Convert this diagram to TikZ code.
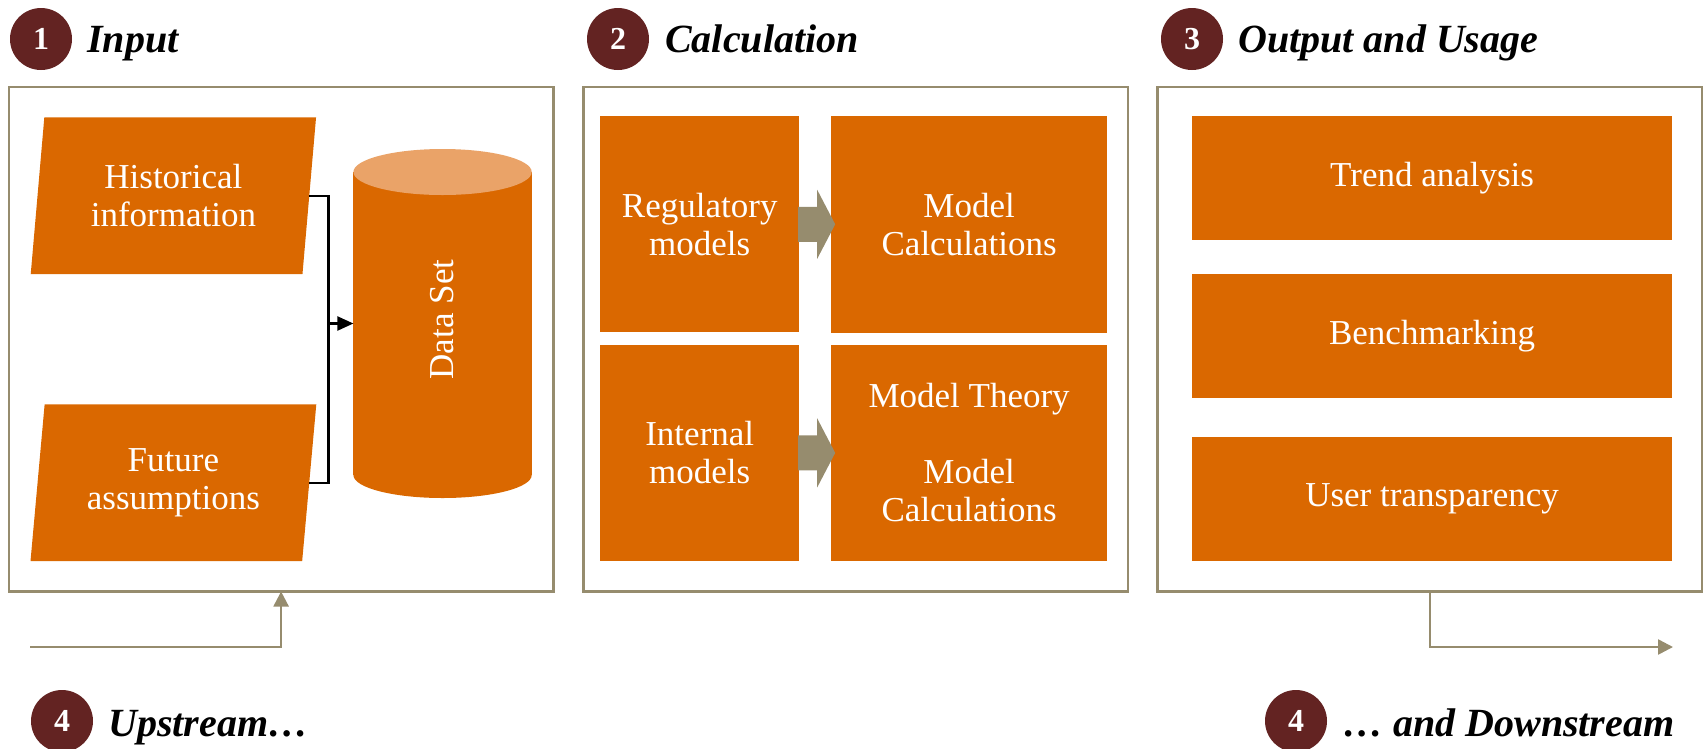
\documentclass[tikz,border=0pt]{standalone}
\usepackage{fontspec}
\setmainfont{Liberation Serif}
\usetikzlibrary{arrows.meta,shapes.geometric,calc}
\definecolor{orng}{RGB}{218,104,0}
\definecolor{lorng}{RGB}{234,163,104}
\definecolor{khaki}{RGB}{150,140,110}
\definecolor{maroon}{RGB}{99,35,34}
\newcommand{\bodyf}{\fontsize{35}{38}\selectfont}
\newcommand{\headf}{\fontsize{40}{44}\selectfont\bfseries\itshape}
\newcommand{\numf}{\fontsize{32}{34}\selectfont\bfseries}
\begin{document}
\begin{tikzpicture}[x=1pt,y=-1pt,
  frame/.style={draw=khaki, line width=2.2pt, minimum width=544.8pt, minimum height=504.5pt, inner sep=0pt, outer sep=0pt},
  obox/.style={fill=orng, text=white, font=\bodyf, align=center, inner sep=0pt, outer sep=0pt},
  para/.style={trapezium, trapezium left angle=82.1, trapezium right angle=97.9, trapezium stretches=true, fill=orng, text=white, font=\bodyf, align=center, inner sep=0pt, outer sep=0pt, minimum width=286pt, minimum height=156.6pt},
  num/.style={circle, fill=maroon, text=white, minimum size=62pt, inner sep=0pt, font=\numf},
  head/.style={anchor=base west, font=\headf, inner sep=0pt},
  conn/.style={draw=black, line width=2.2pt},
  karrow/.style={draw=khaki, line width=2.5pt, -{Triangle[length=15pt,width=15pt]}},
  blockarrow/.style={fill=khaki}
]
\useasboundingbox (0,0) rectangle (1705,748);

% headers
\node[num] (n1) at (41,39) {1};
\node[head] (h1) at (87,52) {Input};
\node[num] (n2) at (618,39) {2};
\node[head] (h2) at (665,52) {Calculation};
\node[num] (n3) at (1192,39) {3};
\node[head] (h3) at (1238,52) {Output and Usage};

% frames
\node[frame] (fin) at (281.1,339.25) {};
\node[frame] (fcalc) at (855.8,339.25) {};
\node[frame] (fout) at (1429.9,339.25) {};

% input
\node[para] (hist) at (173.4,195.7) {Historical\\information};
\node[para] (fut) at (173.4,482.75) {Future\\assumptions};

% cylinder
\node[minimum width=178.3pt, minimum height=349pt, inner sep=0pt, outer sep=0pt] (cyl) at (442.55,323.5) {};
\fill[orng] (353.4,172) rectangle (531.7,475);
\fill[orng] (442.55,475) ellipse [x radius=89.15, y radius=23];
\fill[lorng] (442.55,172) ellipse [x radius=89.15, y radius=23];
\node[rotate=90, font=\bodyf, text=white] (ds) at ($(cyl.center)+(0,-4)$) {Data Set};

\coordinate (jx) at (328.4,0);
\draw[conn] (hist.east) -| (jx |- fut.east) -- (fut.east);
\draw[conn, -{Triangle[length=16pt,width=14pt]}] (jx |- cyl.west) -- (cyl.west);

% calculation
\node[obox, minimum width=198.9pt, minimum height=216pt] (reg) at (699.75,224.3) {Regulatory\\models};
\node[obox, minimum width=276.5pt, minimum height=216.5pt] (mcalc) at (969.1,224.6) {Model\\Calculations};
\node[obox, minimum width=198.9pt, minimum height=216.4pt] (intm) at (699.75,452.9) {Internal\\models};
\node[obox, minimum width=276.5pt, minimum height=216.4pt] (mtheo) at (969.1,452.9) {Model Theory\\[38pt]Model\\Calculations};

\fill[blockarrow] (reg.east) ++(-1,-17.5) -- ++(19,0) -- ++(0,-17) -- ++(18,34.5) -- ++(-18,34.5) -- ++(0,-17) -- ++(-19,0) -- cycle;
\fill[blockarrow] (intm.east) ++(-1,-17.5) -- ++(19,0) -- ++(0,-17) -- ++(18,34.5) -- ++(-18,34.5) -- ++(0,-17) -- ++(-19,0) -- cycle;

% output
\node[obox, minimum width=480.6pt, minimum height=124pt] (trend) at (1432.1,178.4) {Trend analysis};
\node[obox, minimum width=480.6pt, minimum height=124pt] (bench) at (1432.1,336) {Benchmarking};
\node[obox, minimum width=480.6pt, minimum height=124pt] (user) at (1432.1,499) {User transparency};

% upstream / downstream
\coordinate (upin) at (30.4,647);
\draw[karrow] (upin) -| (fin.south);
\coordinate (downout) at (1673,647);
\draw[karrow] (fout.south) |- (downout);

\node[num] (n4a) at (62,721) {4};
\node[head] (h4a) at (108,736) {Upstream…};
\node[num] (n4b) at (1296,721) {4};
\node[head] (h4b) at (1343,736) {… and Downstream};
\end{tikzpicture}
\end{document}
